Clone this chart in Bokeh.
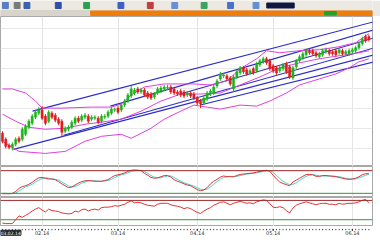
from bokeh.plotting import figure
from bokeh.layouts import column
from bokeh.models import ColumnDataSource, FixedTicker, Range1d, Span
from bokeh.core.properties import value
from bokeh.embed import file_html
from bokeh.resources import INLINE

# ---------------- data ----------------
opens = [1771, 1759, 1747, 1743, 1749, 1761, 1759, 1769, 1783, 1791,
         1803, 1811, 1817, 1805, 1795, 1811, 1807, 1799, 1795, 1775,
         1779, 1783, 1791, 1801, 1797, 1803, 1805, 1799, 1801, 1801,
         1795, 1803, 1805, 1811, 1817, 1821, 1817, 1827, 1835, 1845,
         1851, 1859, 1853, 1857, 1851, 1849, 1843, 1851, 1855, 1859,
         1861, 1863, 1859, 1853, 1855, 1853, 1847, 1851, 1849, 1841,
         1835, 1831, 1839, 1849, 1851, 1865, 1879, 1885, 1885, 1881,
         1859, 1883, 1891, 1901, 1897, 1891, 1899, 1895, 1907, 1913,
         1919, 1915, 1905, 1901, 1895, 1899, 1909, 1903, 1881, 1903,
         1915, 1921, 1927, 1935, 1935, 1931, 1923, 1927, 1933, 1935,
         1933, 1935, 1931, 1935, 1929, 1929, 1933, 1935, 1941, 1949,
         1963, 1963]
closes = [1755, 1745, 1743, 1749, 1759, 1755, 1779, 1785, 1795, 1805,
          1813, 1817, 1801, 1791, 1813, 1803, 1797, 1791, 1773, 1781,
          1783, 1793, 1801, 1795, 1805, 1807, 1795, 1803, 1803, 1793,
          1805, 1805, 1813, 1819, 1818, 1813, 1827, 1835, 1847, 1859,
          1857, 1853, 1857, 1847, 1843, 1841, 1849, 1859, 1861, 1863,
          1862, 1853, 1851, 1849, 1847, 1845, 1851, 1845, 1841, 1831,
          1829, 1841, 1851, 1855, 1863, 1875, 1889, 1887, 1879, 1869,
          1883, 1893, 1901, 1893, 1889, 1895, 1891, 1909, 1915, 1919,
          1911, 1899, 1895, 1891, 1901, 1907, 1893, 1883, 1901, 1915,
          1923, 1929, 1935, 1931, 1929, 1925, 1929, 1935, 1937, 1929,
          1929, 1927, 1937, 1929, 1933, 1935, 1937, 1941, 1949, 1959,
          1955, 1957]
highs = [1775, 1763, 1751, 1753, 1763, 1765, 1783, 1789, 1799, 1809,
         1817, 1823, 1825, 1809, 1817, 1815, 1811, 1803, 1799, 1785,
         1787, 1797, 1805, 1805, 1809, 1811, 1809, 1807, 1807, 1805,
         1809, 1809, 1817, 1823, 1822, 1825, 1831, 1839, 1851, 1865,
         1861, 1863, 1861, 1861, 1855, 1853, 1853, 1863, 1865, 1867,
         1867, 1867, 1863, 1857, 1859, 1857, 1855, 1855, 1853, 1845,
         1839, 1845, 1855, 1859, 1867, 1879, 1893, 1891, 1889, 1885,
         1887, 1897, 1905, 1905, 1901, 1899, 1903, 1913, 1919, 1923,
         1923, 1919, 1909, 1905, 1905, 1911, 1913, 1907, 1905, 1919,
         1927, 1933, 1939, 1939, 1939, 1935, 1933, 1939, 1941, 1939,
         1937, 1939, 1941, 1939, 1937, 1939, 1941, 1945, 1953, 1963,
         1967, 1967]
lows = [1751, 1741, 1739, 1737, 1745, 1751, 1755, 1765, 1779, 1787,
        1799, 1807, 1797, 1787, 1791, 1799, 1793, 1787, 1765, 1771,
        1775, 1779, 1787, 1791, 1793, 1799, 1791, 1795, 1797, 1789,
        1791, 1799, 1801, 1807, 1813, 1809, 1813, 1823, 1831, 1841,
        1847, 1849, 1849, 1843, 1839, 1837, 1839, 1847, 1851, 1855,
        1857, 1849, 1847, 1845, 1843, 1841, 1843, 1841, 1837, 1827,
        1821, 1827, 1835, 1845, 1847, 1861, 1875, 1881, 1875, 1865,
        1853, 1879, 1887, 1889, 1885, 1887, 1887, 1891, 1903, 1909,
        1907, 1895, 1891, 1887, 1891, 1895, 1889, 1879, 1877, 1899,
        1911, 1917, 1923, 1927, 1925, 1921, 1919, 1923, 1929, 1925,
        1925, 1923, 1927, 1925, 1925, 1925, 1929, 1931, 1937, 1945,
        1951, 1953]

# Bollinger-style envelope, read at sampled bars
band_bars = [0, 3, 7, 10, 12, 18, 27, 33, 36, 39, 43, 49, 58, 63, 68, 72, 77, 80, 84, 90, 96, 102, 107, 111]
band_upper = [1859, 1859, 1851, 1835, 1821, 1821, 1823, 1823, 1829, 1847, 1863, 1869, 1869, 1867, 1875, 1899, 1919, 1935, 1931, 1935, 1937, 1943, 1951, 1969]
mid_bars = [0, 4, 8, 13, 19, 25, 30, 36, 42, 48, 54, 60, 66, 72, 78, 84, 90, 96, 102, 108, 111]
band_mid = [1809, 1795, 1783, 1779, 1781, 1789, 1793, 1799, 1815, 1835, 1849, 1849, 1851, 1867, 1883, 1901, 1911, 1919, 1925, 1931, 1935]
low_bars = [0, 5, 13, 19, 25, 30, 36, 39, 45, 49, 54, 58, 62, 66, 72, 77, 81, 86, 90, 96, 101, 105, 108, 111]
band_lower = [1755, 1735, 1731, 1735, 1755, 1765, 1769, 1761, 1781, 1799, 1815, 1827, 1823, 1819, 1827, 1825, 1835, 1851, 1867, 1879, 1889, 1901, 1913, 1919]

# trend lines: start bar, start price, end bar, end price
trend_x0 = [9.1, 32.7, 53.9, 3.3, 18.5, 60.0]
trend_y0 = [1815, 1825, 1849, 1739, 1767, 1827]
trend_x1 = [113.9, 113.9, 113.9, 113.9, 113.9, 113.9]
trend_y1 = [1995, 1979, 1963, 1929, 1943, 1915]

stoch_k = [19, 19, 19, 20, 25, 33, 38, 40, 44, 49, 56, 61, 62, 60, 58, 58, 56, 51, 45, 40,
           35, 37, 42, 47, 51, 53, 54, 53, 52, 52, 52, 54, 56, 62, 67, 69, 71, 74, 78, 81,
           82, 81, 80, 73, 68, 62, 60, 61, 64, 67, 67, 63, 56, 52, 49, 45, 42, 40, 35, 30,
           27, 29, 35, 45, 52, 57, 63, 66, 64, 64, 64, 67, 70, 71, 72, 73, 74, 76, 78, 80,
           81, 78, 68, 58, 50, 46, 43, 40, 50, 55, 60, 65, 70, 70, 69, 65, 65, 67, 67, 66,
           65, 64, 62, 60, 58, 57, 58, 60, 64, 69, 72, 72]
stoch_d = [20, 20, 19, 19, 21, 26, 32, 37, 40, 44, 50, 55, 59, 61, 60, 58, 57, 55, 50, 45,
           40, 37, 38, 42, 47, 50, 53, 53, 53, 52, 52, 53, 54, 57, 62, 66, 69, 71, 74, 78,
           80, 81, 81, 78, 73, 67, 63, 61, 61, 64, 66, 66, 62, 57, 52, 48, 45, 42, 39, 35,
           31, 29, 31, 37, 44, 51, 57, 62, 64, 65, 64, 65, 67, 69, 71, 72, 73, 74, 76, 78,
           79, 80, 76, 68, 59, 52, 47, 43, 44, 48, 54, 60, 65, 68, 70, 68, 66, 66, 66, 66,
           66, 65, 64, 62, 60, 58, 58, 58, 61, 64, 68, 70]
rsi = [23, 22, 22, 22, 30, 38, 35, 39, 43, 48, 52, 55, 50, 46, 52, 49, 48, 47, 44, 43,
       42, 43, 48, 46, 51, 52, 48, 51, 52, 50, 55, 56, 56, 57, 59, 58, 60, 62, 66, 69,
       65, 66, 65, 62, 60, 59, 58, 62, 64, 64, 64, 61, 59, 58, 56, 53, 55, 53, 49, 45,
       43, 48, 52, 55, 60, 63, 66, 67, 64, 61, 64, 66, 68, 66, 64, 65, 63, 67, 69, 71,
       70, 63, 56, 55, 57, 55, 49, 44, 54, 60, 63, 65, 67, 65, 63, 61, 63, 64, 64, 62,
       62, 61, 64, 62, 63, 64, 64, 65, 67, 70, 72, 65]

date_ticks = [12, 35, 59, 82, 106]
date_labels = ["02.14", "03.14", "04.14", "05.14", "06.14"]
first_date = "03.02.14"
price_grid = [1740, 1780, 1820, 1860, 1900, 1940, 1980]
stoch_levels = [80, 20]
rsi_levels = [70, 30]

N = len(closes)
bars = list(range(N))
XR = (-0.6, 112.1)
W = 380

cols = ["#1cb41c" if c >= o else "#e01c1c" for o, c in zip(opens, closes)]
src = ColumnDataSource(dict(x=bars, o=opens, c=closes, h=highs, l=lows, col=cols,
                            top=[max(a, b) for a, b in zip(opens, closes)],
                            bot=[min(a, b) for a, b in zip(opens, closes)]))


def panel(h, yr, outline="#a8a8a8"):
    f = figure(width=W, height=h, x_range=Range1d(*XR), y_range=Range1d(*yr),
               output_backend="svg", toolbar_location=None, min_border=0,
               min_border_right=8, min_border_left=0, min_border_top=0,
               min_border_bottom=0, border_fill_color="#ffffff",
               background_fill_color="#ffffff", outline_line_color=outline)
    f.axis.visible = False
    f.xgrid.ticker = FixedTicker(ticks=date_ticks)
    f.xgrid.grid_line_color = "#e4e4e4"
    f.ygrid.grid_line_color = None
    return f


# ---------------- header (toolbar + tab strip) ----------------
hdr = figure(width=W, height=16, x_range=Range1d(0, 380), y_range=Range1d(16, 0),
             output_backend="svg", toolbar_location=None, min_border=0,
             outline_line_color=None, background_fill_color="#ece9e2",
             border_fill_color="#ece9e2")
hdr.axis.visible = False
hdr.grid.grid_line_color = None
hdr.quad(left=[0], right=[380], top=[10], bottom=[16], color="#d8d4cc")
hdr.quad(left=[92], right=[380], top=[10.5], bottom=[15], color="#f07c0a")
hdr.quad(left=[2, 14, 24, 56, 85, 120, 150, 175, 205, 232, 258],
         right=[8, 20, 30, 62, 91, 126, 156, 181, 211, 238, 264],
         top=[2] * 11, bottom=[8] * 11,
         color=["#5a7fc0", "#7a7a7a", "#3a5fb0", "#2f4fa8", "#2f9f4f", "#4060c0",
                "#c04040", "#6a8fd0", "#40a060", "#4a70c8", "#6090d0"])
hdr.quad(left=[272], right=[300], top=[2.5], bottom=[7.5], color="#101840")
hdr.quad(left=[331, 346], right=[343, 357], top=[11], bottom=[14.5], color=["#28a028", "#c02020"])

# ---------------- main price panel ----------------
p = panel(150, (1705, 2003))
p.ygrid.ticker = FixedTicker(ticks=price_grid)
p.ygrid.grid_line_color = "#e8e8e8"
p.segment(x0=trend_x0, y0=trend_y0, x1=trend_x1, y1=trend_y1,
          line_color="#2b2bc8", line_width=1.1)
p.line(band_bars, band_upper, line_color="#e040e0", line_width=1)
p.line(mid_bars, band_mid, line_color="#e040e0", line_width=1)
p.line(low_bars, band_lower, line_color="#e040e0", line_width=1)
p.segment(x0="x", y0="h", x1="x", y1="l", color="col", line_width=1, source=src)
p.vbar(x="x", top="top", bottom="bot", width=0.66, fill_color="col",
       line_color="col", line_width=0.5, source=src)

# ---------------- stochastic panel ----------------
s = panel(31, (9, 91))
for lv, colr in zip(stoch_levels, ["#a02828", "#2c9c2c"]):
    s.add_layout(Span(location=lv, dimension="width", line_color=colr, line_width=1))
s.line(bars, stoch_d, line_color="#40d8d0", line_width=1)
s.line(bars, stoch_k, line_color="#e03434", line_width=1)

# ---------------- RSI panel ----------------
r = panel(29, (16, 76))
for lv, colr in zip(rsi_levels, ["#a02828", "#2c9c2c"]):
    r.add_layout(Span(location=lv, dimension="width", line_color=colr, line_width=1))
r.line(bars, rsi, line_color="#e03434", line_width=1)

# ---------------- date strip ----------------
d = panel(10, (10, 0), outline=None)
d.xgrid.grid_line_color = None
d.segment(x0=bars, y0=[0.3] * N, x1=bars, y1=[1.7] * N, line_color="#404040", line_width=1)
d.segment(x0=date_ticks, y0=[0.3] * len(date_ticks), x1=date_ticks,
          y1=[2.4] * len(date_ticks), line_color="#202020", line_width=1)
d.text(x=date_ticks, y=[2.4] * len(date_ticks), text=date_labels,
       text_font=value("DejaVu Sans"), text_font_size="5px", text_color="#303030",
       text_align="center", text_baseline="top")
d.quad(left=[-0.6], right=[5.6], top=[1.8], bottom=[6.8], color="#1e2630")
d.text(x=[2.5], y=[4.3], text=[first_date], text_font=value("DejaVu Sans"),
       text_font_size="4.5px", text_color="#ffffff", text_align="center",
       text_baseline="middle")

# ---------------- bottom strip ----------------
b = figure(width=W, height=4, x_range=Range1d(0, 1), y_range=Range1d(0, 1),
           output_backend="svg", toolbar_location=None, min_border=0,
           outline_line_color=None, background_fill_color="#d4d0c8",
           border_fill_color="#d4d0c8")
b.axis.visible = False
b.grid.grid_line_color = None

layout = column(hdr, p, s, r, d, b, spacing=0)
open("out.html", "w").write(file_html(layout, INLINE))
